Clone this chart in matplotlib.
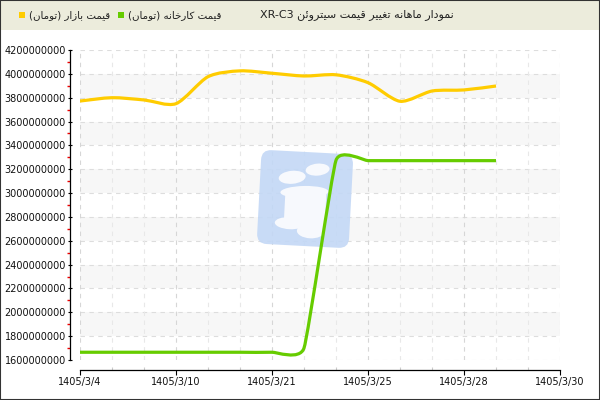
import re
import matplotlib
matplotlib.use("Agg")
import matplotlib.pyplot as plt
import matplotlib.transforms as mtransforms
from matplotlib.path import Path
from matplotlib.patches import PathPatch, Rectangle, FancyBboxPatch, Ellipse
from matplotlib.ticker import FixedLocator, MultipleLocator, FuncFormatter

# chart data
title = "نمودار ماهانه تغییر قیمت سیتروئن XR-C3"
legend_factory = "قیمت کارخانه (تومان)"
legend_market = "قیمت بازار (تومان)"

x_labels = ["1405/3/4", "1405/3/10", "1405/3/21", "1405/3/25", "1405/3/28", "1405/3/30"]
x_label_pos = [0, 3, 6, 9, 12, 15]
n_slots = 15

market_price = [3772e6, 3800e6, 3781e6, 3750e6, 3976e6, 4025e6, 4005e6,
                3982e6, 3992e6, 3926e6, 3770e6, 3856e6, 3865e6, 3898e6]
factory_price = [1665e6, 1665e6, 1665e6, 1665e6, 1665e6, 1665e6, 1665e6,
                 1700e6, 3275e6, 3272e6, 3272e6, 3272e6, 3272e6, 3272e6]

y_ticks = [1600e6, 1800e6, 2000e6, 2200e6, 2400e6, 2600e6, 2800e6,
           3000e6, 3200e6, 3400e6, 3600e6, 3800e6, 4000e6, 4200e6]

market_color = "#FFCC00"
factory_color = "#66CC00"

# minimal persian shaping (matplotlib has no bidi / shaping)
FORMS = {
    "\u0627": ("\uFE8D", "\uFE8E", None, None),
    "\u0628": ("\uFE8F", "\uFE90", "\uFE91", "\uFE92"),
    "\u062A": ("\uFE95", "\uFE96", "\uFE97", "\uFE98"),
    "\u062E": ("\uFEA5", "\uFEA6", "\uFEA7", "\uFEA8"),
    "\u062F": ("\uFEA9", "\uFEAA", None, None),
    "\u0631": ("\uFEAD", "\uFEAE", None, None),
    "\u0632": ("\uFEAF", "\uFEB0", None, None),
    "\u0633": ("\uFEB1", "\uFEB2", "\uFEB3", "\uFEB4"),
    "\u063A": ("\uFECD", "\uFECE", "\uFECF", "\uFED0"),
    "\u0642": ("\uFED5", "\uFED6", "\uFED7", "\uFED8"),
    "\u0645": ("\uFEE1", "\uFEE2", "\uFEE3", "\uFEE4"),
    "\u0646": ("\uFEE5", "\uFEE6", "\uFEE7", "\uFEE8"),
    "\u0647": ("\uFEE9", "\uFEEA", "\uFEEB", "\uFEEC"),
    "\u0648": ("\uFEED", "\uFEEE", None, None),
    "\u0626": ("\uFE89", "\uFE8A", "\uFE8B", "\uFE8C"),
    "\u06A9": ("\uFB8E", "\uFB8F", "\uFB90", "\uFB91"),
    "\u06CC": ("\uFBFC", "\uFBFD", "\uFBFE", "\uFBFF"),
}


def shape(s):
    s = s.replace("\u064A", "\u06CC").replace("\u0643", "\u06A9")
    out = []
    for i, c in enumerate(s):
        if c not in FORMS:
            out.append(c)
            continue
        f = FORMS[c]
        prev = s[i - 1] if i > 0 else ""
        nxt = s[i + 1] if i + 1 < len(s) else ""
        jp = prev in FORMS and FORMS[prev][2] is not None
        jn = f[2] is not None and nxt in FORMS
        if jp and jn:
            out.append(f[3])
        elif jp:
            out.append(f[1])
        elif jn:
            out.append(f[2])
        else:
            out.append(f[0])
    return "".join(out)


def visual(s):
    t = shape(s)[::-1]
    t = t.replace("(", "\0").replace(")", "(").replace("\0", ")")
    return re.sub(r"[A-Za-z0-9\-]+", lambda m: m.group()[::-1], t)


def smooth_path(xs, ys, tension):
    verts = [(xs[0], ys[0])]
    codes = [Path.MOVETO]
    n = len(xs)
    for i in range(n - 1):
        a = i - 1 if i > 0 else i
        b = i + 2 if i + 2 < n else i + 1
        c1 = (xs[i] + tension * (xs[i + 1] - xs[a]) / 6,
              ys[i] + tension * (ys[i + 1] - ys[a]) / 6)
        c2 = (xs[i + 1] - tension * (xs[b] - xs[i]) / 6,
              ys[i + 1] - tension * (ys[b] - ys[i]) / 6)
        verts += [c1, c2, (xs[i + 1], ys[i + 1])]
        codes += [Path.CURVE4] * 3
    return Path(verts, codes)


plt.rcParams["font.family"] = ["DejaVu Sans"]

fig = plt.figure(figsize=(6, 4), dpi=100)
fig.patch.set_facecolor("white")
ax = fig.add_axes([80 / 600, 40 / 400, 480 / 600, 310 / 400])
ax.set_xlim(0, n_slots)
ax.set_ylim(y_ticks[0], y_ticks[-1])

# alternating bands
for lo in y_ticks[1:-1:2]:
    ax.axhspan(lo, lo + 200e6, color="#F7F7F7", lw=0, zorder=0)

# dashed grid
for v in y_ticks:
    ax.axhline(v, color="#DDDDDD", lw=0.8, ls=(0, (4, 4)), zorder=0.5)
for i in range(n_slots + 1):
    c = "#D6D6D6" if i in x_label_pos else "#E8E8E8"
    ax.axvline(i, color=c, lw=0.8, ls=(0, (4, 4)), zorder=0.5)

# watermark logo (pixel coords, y down)
px = mtransforms.Affine2D().scale(1 / 600, -1 / 400).translate(0, 1) + fig.transFigure
rot = mtransforms.Affine2D().rotate_deg_around(305, 200, 3)
logo_t = rot + px
logo = FancyBboxPatch((259, 152), 92, 94, boxstyle="round,pad=0,rounding_size=10",
                      fc="#C3D8F6", ec="none", alpha=0.9, transform=logo_t,
                      zorder=1, clip_on=False)
ax.add_patch(logo)
white = "#F7F9FD"
for (cx, cy, w, h, ang) in [(291, 178, 27, 13, -8), (316, 169, 24, 12, -8),
                            (304, 192, 48, 12, -4), (291, 224, 30, 12, 0),
                            (312, 231, 27, 14, 0)]:
    ax.add_patch(Ellipse((cx, cy), w, h, angle=ang, fc=white, ec="none",
                         transform=logo_t, zorder=1.1, clip_on=False))
ax.add_patch(Rectangle((285, 190), 41, 38, fc=white, ec="none",
                       transform=logo_t, zorder=1.1, clip_on=False))

# lines
xs = list(range(len(market_price)))
ax.add_patch(PathPatch(smooth_path(xs, market_price, 0.8), fill=False, ec=market_color,
                       lw=2.3, capstyle="butt", joinstyle="round", zorder=3))
ax.add_patch(PathPatch(smooth_path(xs, factory_price, 0.4), fill=False, ec=factory_color,
                       lw=2.3, capstyle="butt", joinstyle="round", zorder=3))

# axes styling
for s in ["top", "right"]:
    ax.spines[s].set_visible(False)
ax.spines["left"].set_position(("outward", 7.2))
ax.spines["bottom"].set_position(("outward", 7.2))
ax.spines["left"].set_linewidth(0.9)
ax.spines["bottom"].set_linewidth(0.9)

ax.yaxis.set_major_locator(FixedLocator(y_ticks))
ax.yaxis.set_minor_locator(MultipleLocator(100e6))
ax.yaxis.set_major_formatter(FuncFormatter(lambda v, p: f"{int(round(v))}"))
ax.tick_params(axis="y", which="major", direction="inout", length=3, width=0.8,
               labelsize=7, pad=1.5, labelcolor="#111111")
ax.tick_params(axis="y", which="minor", direction="out", length=2.2, width=1.0,
               color="#EE0000")

ax.xaxis.set_major_locator(FixedLocator(x_label_pos))
ax.set_xticklabels(x_labels)
ax.xaxis.set_minor_locator(MultipleLocator(1))
ax.tick_params(axis="x", which="major", direction="out", length=3.6, width=0.8,
               labelsize=7, pad=1.5, labelcolor="#111111")
ax.tick_params(axis="x", which="minor", direction="in", length=2, width=0.8,
               color="#CCCCCC")

# header bar with title and legend
fig.patches.append(Rectangle((0, 1 - 30 / 400), 1, 30 / 400, transform=fig.transFigure,
                             fc="#ECECDC", ec="none", zorder=0))
hy = 1 - 15 / 400
fig.text(454 / 600, hy, visual(title), ha="right", va="center", fontsize=8,
         color="#222222")
fig.text(128 / 600, hy, visual(legend_factory), ha="left", va="center", fontsize=7.4,
         color="#222222")
fig.text(29 / 600, hy, visual(legend_market), ha="left", va="center", fontsize=7.4,
         color="#222222")
for (cx, col) in [(121, factory_color), (22, market_color)]:
    fig.patches.append(Rectangle(((cx - 3) / 600, hy - 3 / 400), 6 / 600, 6 / 400,
                                 transform=fig.transFigure, fc=col, ec="none"))

# outer border
fig.patches.append(Rectangle((0, 0), 1, 1, transform=fig.transFigure, fill=False,
                             ec="#333333", lw=1.5, zorder=10))

fig.savefig("out.png", dpi=100)
